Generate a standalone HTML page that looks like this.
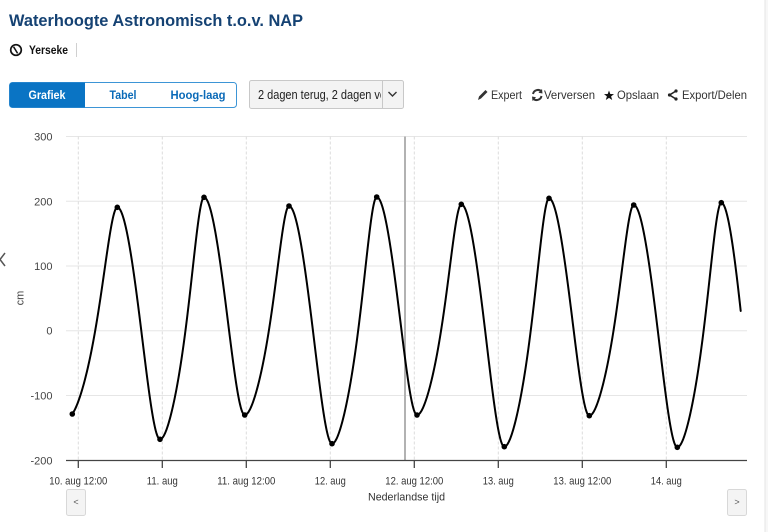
<!DOCTYPE html>
<html><head><meta charset="utf-8"><style>
html,body{margin:0;padding:0;background:#fff;}
body{width:768px;height:532px;overflow:hidden;font-family:"Liberation Sans",sans-serif;}
svg{display:block;}
text{font-family:"Liberation Sans",sans-serif;}
</style></head><body>
<svg width="768" height="532" viewBox="0 0 768 532" xmlns="http://www.w3.org/2000/svg">
<rect x="0" y="0" width="768" height="532" fill="#fff"/>
<rect x="765" y="0" width="3" height="532" fill="#f7f7f7"/>
<line x1="765" y1="0" x2="765" y2="532" stroke="#e6e6e6" stroke-width="1"/>

<!-- Title -->
<text x="9" y="26" font-size="17" font-weight="bold" fill="#154273" textLength="294" lengthAdjust="spacingAndGlyphs">Waterhoogte Astronomisch t.o.v. NAP</text>

<!-- Location -->
<circle cx="16" cy="50" r="5.3" fill="none" stroke="#111" stroke-width="1.7"/>
<line x1="13.6" y1="46.8" x2="17.6" y2="53.4" stroke="#111" stroke-width="1.5"/>
<text x="29" y="54" font-size="11.5" font-weight="bold" fill="#111" textLength="39" lengthAdjust="spacingAndGlyphs">Yerseke</text>
<line x1="76.5" y1="43" x2="76.5" y2="57" stroke="#d0d0d0" stroke-width="1"/>

<!-- Segmented control -->
<rect x="9.5" y="82.5" width="227" height="25" rx="3" fill="#fff" stroke="#3d95d6" stroke-width="1"/>
<path d="M12.5,82.5 H85 V107.5 H12.5 A3,3 0 0 1 9.5,104.5 V85.5 A3,3 0 0 1 12.5,82.5 Z" fill="#0a74c4"/>
<text x="47" y="99" font-size="12" font-weight="bold" fill="#fff" text-anchor="middle" textLength="37" lengthAdjust="spacingAndGlyphs">Grafiek</text>
<text x="123" y="99" font-size="12" font-weight="bold" fill="#0a6ab8" text-anchor="middle" textLength="27" lengthAdjust="spacingAndGlyphs">Tabel</text>
<text x="198" y="99" font-size="12" font-weight="bold" fill="#0a6ab8" text-anchor="middle" textLength="55" lengthAdjust="spacingAndGlyphs">Hoog-laag</text>

<!-- Dropdown -->
<rect x="249.5" y="80.5" width="154" height="28" rx="2" fill="#f3f3f3" stroke="#c8c8c8" stroke-width="1"/>
<line x1="382.5" y1="81" x2="382.5" y2="108" stroke="#c8c8c8" stroke-width="1"/>
<clipPath id="ddclip"><rect x="250" y="81" width="131" height="27"/></clipPath>
<g clip-path="url(#ddclip)">
  <text transform="translate(258,99) scale(0.878,1)" x="0" y="0" font-size="12.5" fill="#222">2 dagen terug, 2 dagen vooruit</text>
</g>
<polyline points="388.5,92 392.5,96 396.5,92" fill="none" stroke="#333" stroke-width="1.4"/>

<!-- Toolbar -->
<g fill="#333" font-size="12">
  <path d="M478,100 L479,96.5 L485.5,90 L487.5,92 L481,98.5 Z" fill="#333"/>
  <text x="491" y="99" textLength="31" lengthAdjust="spacingAndGlyphs">Expert</text>
  <path d="M533,94 A5,5 0 0 1 541.5,91.5" fill="none" stroke="#333" stroke-width="2"/>
  <path d="M542,89 L542.5,93.5 L538.5,92.8 Z" fill="#333"/>
  <path d="M541.5,96 A5,5 0 0 1 533,98.5" fill="none" stroke="#333" stroke-width="2"/>
  <path d="M532.5,101 L532,96.5 L536,97.2 Z" fill="#333"/>
  <text x="544" y="99" textLength="51" lengthAdjust="spacingAndGlyphs">Verversen</text>
  <path d="M609,90.5 L610.3,94 L614,94.1 L611.1,96.4 L612.2,100 L609,97.9 L605.8,100 L606.9,96.4 L604,94.1 L607.7,94 Z" fill="#111"/>
  <text x="617" y="99" textLength="42" lengthAdjust="spacingAndGlyphs">Opslaan</text>
  <polyline points="676,91 669.5,95 676,99" fill="none" stroke="#222" stroke-width="1.6"/>
  <circle cx="676" cy="91" r="1.6" fill="#222"/>
  <circle cx="669.5" cy="95" r="1.6" fill="#222"/>
  <circle cx="676" cy="99" r="1.6" fill="#222"/>
  <text x="682" y="99" textLength="65" lengthAdjust="spacingAndGlyphs">Export/Delen</text>
</g>

<!-- Horizontal grid -->
<g stroke="#e6e6e6" stroke-width="1">
  <line x1="66" y1="136.5" x2="747" y2="136.5"/>
  <line x1="66" y1="201.3" x2="747" y2="201.3"/>
  <line x1="66" y1="266" x2="747" y2="266"/>
  <line x1="66" y1="330.7" x2="747" y2="330.7"/>
  <line x1="66" y1="395.5" x2="747" y2="395.5"/>
</g>
<!-- Vertical dashed grid -->
<g stroke="#dcdcdc" stroke-width="1" stroke-dasharray="3,2">
  <line x1="78.3" y1="136.5" x2="78.3" y2="460"/>
  <line x1="162.3" y1="136.5" x2="162.3" y2="460"/>
  <line x1="246.3" y1="136.5" x2="246.3" y2="460"/>
  <line x1="330.3" y1="136.5" x2="330.3" y2="460"/>
  <line x1="414.3" y1="136.5" x2="414.3" y2="460"/>
  <line x1="498.3" y1="136.5" x2="498.3" y2="460"/>
  <line x1="582.3" y1="136.5" x2="582.3" y2="460"/>
  <line x1="666.3" y1="136.5" x2="666.3" y2="460"/>
</g>

<!-- Current time line -->
<line x1="405" y1="136.5" x2="405" y2="460" stroke="#b2b2b2" stroke-width="2"/>

<!-- Y labels -->
<g font-size="11" fill="#444" text-anchor="end">
  <text x="52.5" y="140.5">300</text>
  <text x="52.5" y="205.3">200</text>
  <text x="52.5" y="270">100</text>
  <text x="52.5" y="334.7">0</text>
  <text x="52.5" y="399.5">-100</text>
  <text x="52.5" y="464.3">-200</text>
</g>
<text transform="translate(23.5,298) rotate(-90)" font-size="11" fill="#444" text-anchor="middle">cm</text>
<polyline points="5,253 0,259.5 5,266" fill="none" stroke="#555" stroke-width="1.5"/>

<!-- X axis -->
<line x1="66" y1="460.5" x2="747" y2="460.5" stroke="#444" stroke-width="1.3"/>
<g stroke="#444" stroke-width="1.3">
  <line x1="78.3" y1="460" x2="78.3" y2="468"/>
  <line x1="162.3" y1="460" x2="162.3" y2="468"/>
  <line x1="246.3" y1="460" x2="246.3" y2="468"/>
  <line x1="330.3" y1="460" x2="330.3" y2="468"/>
  <line x1="414.3" y1="460" x2="414.3" y2="468"/>
  <line x1="498.3" y1="460" x2="498.3" y2="468"/>
  <line x1="582.3" y1="460" x2="582.3" y2="468"/>
  <line x1="666.3" y1="460" x2="666.3" y2="468"/>
</g>
<g font-size="11" fill="#333" text-anchor="middle">
  <text x="78.3" y="484.5" textLength="58" lengthAdjust="spacingAndGlyphs">10. aug 12:00</text>
  <text x="162.3" y="484.5" textLength="31" lengthAdjust="spacingAndGlyphs">11. aug</text>
  <text x="246.3" y="484.5" textLength="58" lengthAdjust="spacingAndGlyphs">11. aug 12:00</text>
  <text x="330.3" y="484.5" textLength="31" lengthAdjust="spacingAndGlyphs">12. aug</text>
  <text x="414.3" y="484.5" textLength="58" lengthAdjust="spacingAndGlyphs">12. aug 12:00</text>
  <text x="498.3" y="484.5" textLength="31" lengthAdjust="spacingAndGlyphs">13. aug</text>
  <text x="582.3" y="484.5" textLength="58" lengthAdjust="spacingAndGlyphs">13. aug 12:00</text>
  <text x="666.3" y="484.5" textLength="31" lengthAdjust="spacingAndGlyphs">14. aug</text>
  <text x="406.5" y="500.5" textLength="77" lengthAdjust="spacingAndGlyphs">Nederlandse tijd</text>
</g>

<!-- Nav buttons -->
<rect x="66.5" y="489.5" width="19" height="26" rx="2" fill="#f4f4f4" stroke="#d8d8d8"/>
<text x="76" y="505" font-size="9" fill="#555" text-anchor="middle">&lt;</text>
<rect x="727.5" y="489.5" width="19" height="26" rx="2" fill="#f4f4f4" stroke="#d8d8d8"/>
<text x="737" y="505" font-size="9" fill="#555" text-anchor="middle">&gt;</text>

<!-- Series -->
<path id="tide" d="" fill="none" stroke="#000" stroke-width="2" stroke-linejoin="round" stroke-linecap="round"/>
<g id="dots" fill="#000"></g>
</svg>
<script>
(function(){
  var ext=[[117.3,207.3],[160,439.3],[204,197.3],[244.7,415],[289,206],[332,443.7],[376.7,197],[417,415],[461.3,204.3],[504.3,446.7],[549,198.3],[589.3,415.7],[633.7,205],[677.3,447.3],[721.3,202.7]];
  var nodes=[[68,417.1]].concat(ext).concat([[760,447]]);
  var startX=72.3, endX=740.7;
  function warpRise(t){return t - t*(1-t)*(0.05+0.7*t);}
  function warpFall(t){return t - 0.3*t*t*(1-t);}
  var out=[];
  for(var i=0;i<nodes.length-1;i++){
    var a=nodes[i], b=nodes[i+1];
    var rising = b[1]<a[1];
    var x0=a[0], x1=b[0];
    var xs=Math.max(x0,startX), xe=Math.min(x1,endX);
    if(xe<=xs) continue;
    var step=0.5;
    for(var x=xs; x<xe+1e-9; x+=step){
      var t=(x-x0)/(x1-x0);
      var w=rising?warpRise(t):warpFall(t);
      var f=(1-Math.cos(Math.PI*w))/2;
      var y=a[1]+(b[1]-a[1])*f;
      out.push([x,y]);
    }
    if(xe===endX){
      var t=(xe-x0)/(x1-x0);
      var w=rising?warpRise(t):warpFall(t);
      var f=(1-Math.cos(Math.PI*w))/2;
      out.push([xe,a[1]+(b[1]-a[1])*f]);
    } else {
      out.push([b[0],b[1]]);
    }
  }
  var s="M"+out[0][0].toFixed(2)+","+out[0][1].toFixed(2);
  for(var k=1;k<out.length;k++){ s+=" L"+out[k][0].toFixed(2)+","+out[k][1].toFixed(2); }
  document.getElementById("tide").setAttribute("d",s);
  var g=document.getElementById("dots");
  var dp=[[72.3,414]].concat(ext);
  for(var i=0;i<dp.length;i++){
    var c=document.createElementNS("http://www.w3.org/2000/svg","circle");
    c.setAttribute("cx",dp[i][0]);c.setAttribute("cy",dp[i][1]);c.setAttribute("r","2.8");
    g.appendChild(c);
  }
})();
</script>
</body></html>
